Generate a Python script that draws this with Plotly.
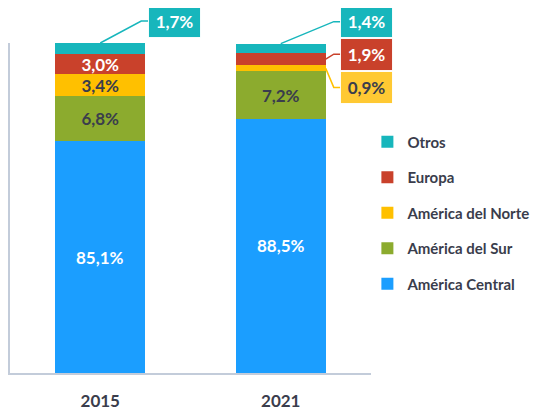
import plotly.graph_objects as go

# ---------------- data ----------------
categories = ["2015", "2021"]
series_names = ["América Central", "América del Sur", "América del Norte", "Europa", "Otros"]
america_central = [85.1, 88.5]
america_sur = [6.8, 7.2]
america_norte = [3.4, 0.9]
europa = [3.0, 1.9]
otros = [1.7, 1.4]
y_range = [50, 100]

# ---------------- styles ----------------
colors = {
    "América Central": "#1B9EFF",
    "América del Sur": "#8CAB2E",
    "América del Norte": "#FFC000",
    "Europa": "#C9412B",
    "Otros": "#17B6BC",
}
label_colors = {
    "América Central": "white",
    "América del Sur": "#3A3D4C",
    "América del Norte": "#3A3D4C",
    "Europa": "white",
    "Otros": "white",
}
box_colors = {
    "Otros": ("#17B6BC", "white"),
    "Europa": ("#C9412B", "white"),
    "América del Norte": ("#FFC933", "#3A3D4C"),
}
callouts = {
    ("Otros", "2015"): dict(sx=0, ex=41, ey=22, bx=74, top=True),
    ("Otros", "2021"): dict(sx=0, ex=53, ey=22, bx=86, top=True),
    ("Europa", "2021"): dict(sx=45, ex=53, ey=5, bx=86, top=False),
    ("América del Norte", "2021"): dict(sx=45, ex=53, ey=-19, bx=86, top=False),
}

values = {
    "América Central": america_central,
    "América del Sur": america_sur,
    "América del Norte": america_norte,
    "Europa": europa,
    "Otros": otros,
}

def fmt(v):
    return f"{v:.1f}".replace(".", ",") + "%"

def to_paper_y(v):
    return (v - y_range[0]) / (y_range[1] - y_range[0])

FONT = "Lato"
DARK = "#3A3D4C"
LABEL_SIZE = 17

fig = go.Figure()
cum = [0.0] * len(categories)
shapes = []
annotations = []
n = len(categories)
for k, name in enumerate(series_names):
    vals = values[name]
    texts = []
    for i, cat in enumerate(categories):
        v = vals[i]
        start = cum[i]
        top = start + v
        if (name, cat) in callouts:
            texts.append("")
            c = callouts[(name, cat)]
            anchor_y = top if c["top"] else start + v / 2
            shapes.append(dict(
                type="path", xref="paper", yref="paper", xsizemode="pixel", ysizemode="pixel",
                xanchor=(i + 0.5) / n, yanchor=to_paper_y(anchor_y),
                path=f"M{c['sx']},0 L{c['ex']},{c['ey']} L{c['bx'] - 26},{c['ey']}",
                line=dict(color=colors[name], width=1.5), layer="above",
            ))
            bg, fg = box_colors[name]
            annotations.append(dict(
                x=i, y=anchor_y, xref="x", yref="y", text=fmt(v), showarrow=False,
                xshift=c["bx"], yshift=c["ey"], bgcolor=bg, width=49, height=29,
                font=dict(family=FONT, size=LABEL_SIZE, color=fg, weight="bold"),
                bordercolor="rgba(255,255,255,0.9)", borderwidth=1,
            ))
        elif start < y_range[0]:
            # bar partly below the axis minimum: centre label on the visible part
            texts.append("")
            annotations.append(dict(
                x=i, y=(y_range[0] + top) / 2, xref="x", yref="y", text=fmt(v), showarrow=False,
                font=dict(family=FONT, size=LABEL_SIZE, color=label_colors[name], weight="bold"),
            ))
        else:
            texts.append(fmt(v))
        cum[i] = top
    fig.add_trace(go.Bar(
        x=categories, y=vals, name=name, marker=dict(color=colors[name], line=dict(width=0)),
        text=texts, textposition="inside", insidetextanchor="middle", constraintext="none",
        textfont=dict(family=FONT, size=LABEL_SIZE, color=label_colors[name], weight="bold"),
        legendgroup=name, legendrank=len(series_names) - k, hoverinfo="skip",
    ))

fig.update_layout(
    barmode="stack",
    bargap=0.5,
    width=540, height=400,
    margin=dict(l=2, r=177, t=35, b=35, autoexpand=False),
    plot_bgcolor="white", paper_bgcolor="white",
    font=dict(family=FONT, color=DARK),
    showlegend=True,
    legend=dict(
        traceorder="grouped", x=0.99, xanchor="left", y=0.75, yanchor="top",
        font=dict(family=FONT, size=15, color=DARK, weight="bold"),
        tracegroupgap=13, itemwidth=30,
    ),
    shapes=shapes,
    annotations=annotations,
)
fig.update_xaxes(
    type="category", range=[-0.5, len(categories) - 0.5],
    showline=True, linecolor="#C3CCDA", linewidth=1.5, ticks="", ticklen=0, showgrid=False,
    tickfont=dict(family=FONT, size=17, color=DARK, weight="bold"), ticklabelstandoff=12,
)
fig.update_yaxes(
    range=y_range, showline=True, linecolor="#C3CCDA", linewidth=1.5, showgrid=False,
    showticklabels=False, ticks="", zeroline=False,
)

fig.write_html("out.html")
